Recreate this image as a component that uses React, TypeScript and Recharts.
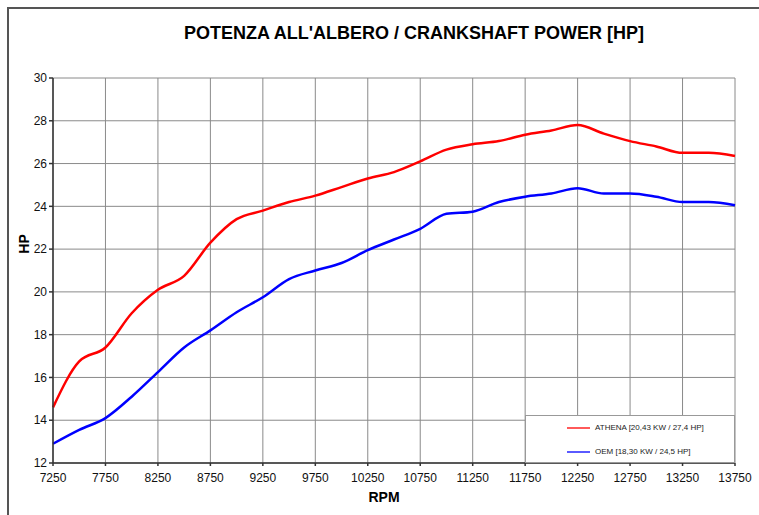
import React from 'react';
import { LineChart, Line, XAxis, YAxis, CartesianGrid } from 'recharts';

const rpm = [
  7250, 7500, 7750, 8000, 8250, 8500, 8750, 9000, 9250, 9500, 9750, 10000, 10250, 10500,
  10750, 11000, 11250, 11500, 11750, 12000, 12250, 12500, 12750, 13000, 13250, 13500, 13750,
];
const athena = [
  14.6, 16.75, 17.4, 19.0, 20.1, 20.75, 22.3, 23.4, 23.8, 24.2, 24.5, 24.9, 25.3, 25.6,
  26.1, 26.65, 26.9, 27.05, 27.35, 27.55, 27.8, 27.4, 27.05, 26.8, 26.5, 26.5, 26.35,
];
const oem = [
  12.9, 13.55, 14.1, 15.1, 16.25, 17.4, 18.2, 19.05, 19.75, 20.6, 21.0, 21.35, 21.95, 22.45,
  22.95, 23.65, 23.75, 24.2, 24.45, 24.6, 24.85, 24.6, 24.6, 24.45, 24.2, 24.2, 24.05,
];
const xTicks = rpm.filter((_, i) => i % 2 === 0);
const yTicks = [12, 14, 16, 18, 20, 22, 24, 26, 28, 30];
const legendLabels = ['ATHENA [20,43 KW / 27,4 HP]', 'OEM [18,30 KW / 24,5 HP]'];
const legendColors = ['#ff5a5a', '#5a5aff'];

const data = rpm.map((r, i) => ({ rpm: r, athena: athena[i], oem: oem[i] }));

const font = '"Liberation Sans", Arial, sans-serif';

const LegendBox = () => (
  <div
    style={{
      position: 'absolute',
      left: 525,
      top: 415,
      width: 210,
      height: 48,
      background: '#fff',
      border: '1px solid #999',
      boxSizing: 'border-box',
      fontFamily: font,
      fontSize: 8,
      color: '#222',
    }}
  >
    {legendLabels.map((label, i) => (
      <div
        key={label}
        style={{ position: 'absolute', left: 41, top: 7 + i * 24, display: 'flex', alignItems: 'center' }}
      >
        <span
          style={{
            display: 'inline-block',
            width: 23,
            height: 2,
            background: legendColors[i],
            marginRight: 5,
          }}
        />
        <span>{label}</span>
      </div>
    ))}
  </div>
);

export default function App() {
  return (
    <div
      style={{
        position: 'fixed',
        left: 0,
        top: 0,
        width: 759,
        height: 515,
        overflow: 'hidden',
        background: '#fff',
        fontFamily: font,
      }}
    >
      <div
        style={{
          position: 'absolute',
          left: 7,
          top: 7,
          width: 820,
          height: 600,
          border: '2px solid #555',
        }}
      />
      <div
        style={{
          position: 'absolute',
          left: 0,
          width: 828,
          top: 23,
          textAlign: 'center',
          fontWeight: 'bold',
          fontSize: 18,
          color: '#000',
        }}
      >
        POTENZA ALL'ALBERO / CRANKSHAFT POWER [HP]
      </div>
      <div
        style={{
          position: 'absolute',
          left: 14,
          top: 236,
          transform: 'rotate(-90deg)',
          fontWeight: 'bold',
          fontSize: 14,
        }}
      >
        HP
      </div>
      <div
        style={{
          position: 'absolute',
          left: 356,
          top: 489,
          width: 56,
          textAlign: 'center',
          fontWeight: 'bold',
          fontSize: 14,
        }}
      >
        RPM
      </div>
      <div style={{ position: 'absolute', left: 0, top: 0 }}>
        <LineChart width={759} height={515} data={data} margin={{ top: 78, right: 24, bottom: 22, left: 0 }}>
          <CartesianGrid stroke="#8a8a8a" strokeWidth={1} />
          <XAxis
            dataKey="rpm"
            type="number"
            domain={[7250, 13750]}
            ticks={xTicks}
            interval={0}
            stroke="#333"
            strokeWidth={1.5}
            tickSize={3}
            tickMargin={7}
            tick={{ fill: '#111', fontSize: 12, fontFamily: font }}
          />
          <YAxis
            type="number"
            domain={[12, 30]}
            ticks={yTicks}
            interval={0}
            width={53}
            stroke="#333"
            strokeWidth={1.5}
            tickSize={4}
            tick={{ fill: '#111', fontSize: 12, fontFamily: font }}
          />
          <Line
            type="monotone"
            dataKey="athena"
            stroke="#ff0000"
            strokeWidth={2.5}
            dot={false}
            isAnimationActive={false}
          />
          <Line
            type="monotone"
            dataKey="oem"
            stroke="#0000ff"
            strokeWidth={2.5}
            dot={false}
            isAnimationActive={false}
          />
        </LineChart>
      </div>
      <LegendBox />
    </div>
  );
}
